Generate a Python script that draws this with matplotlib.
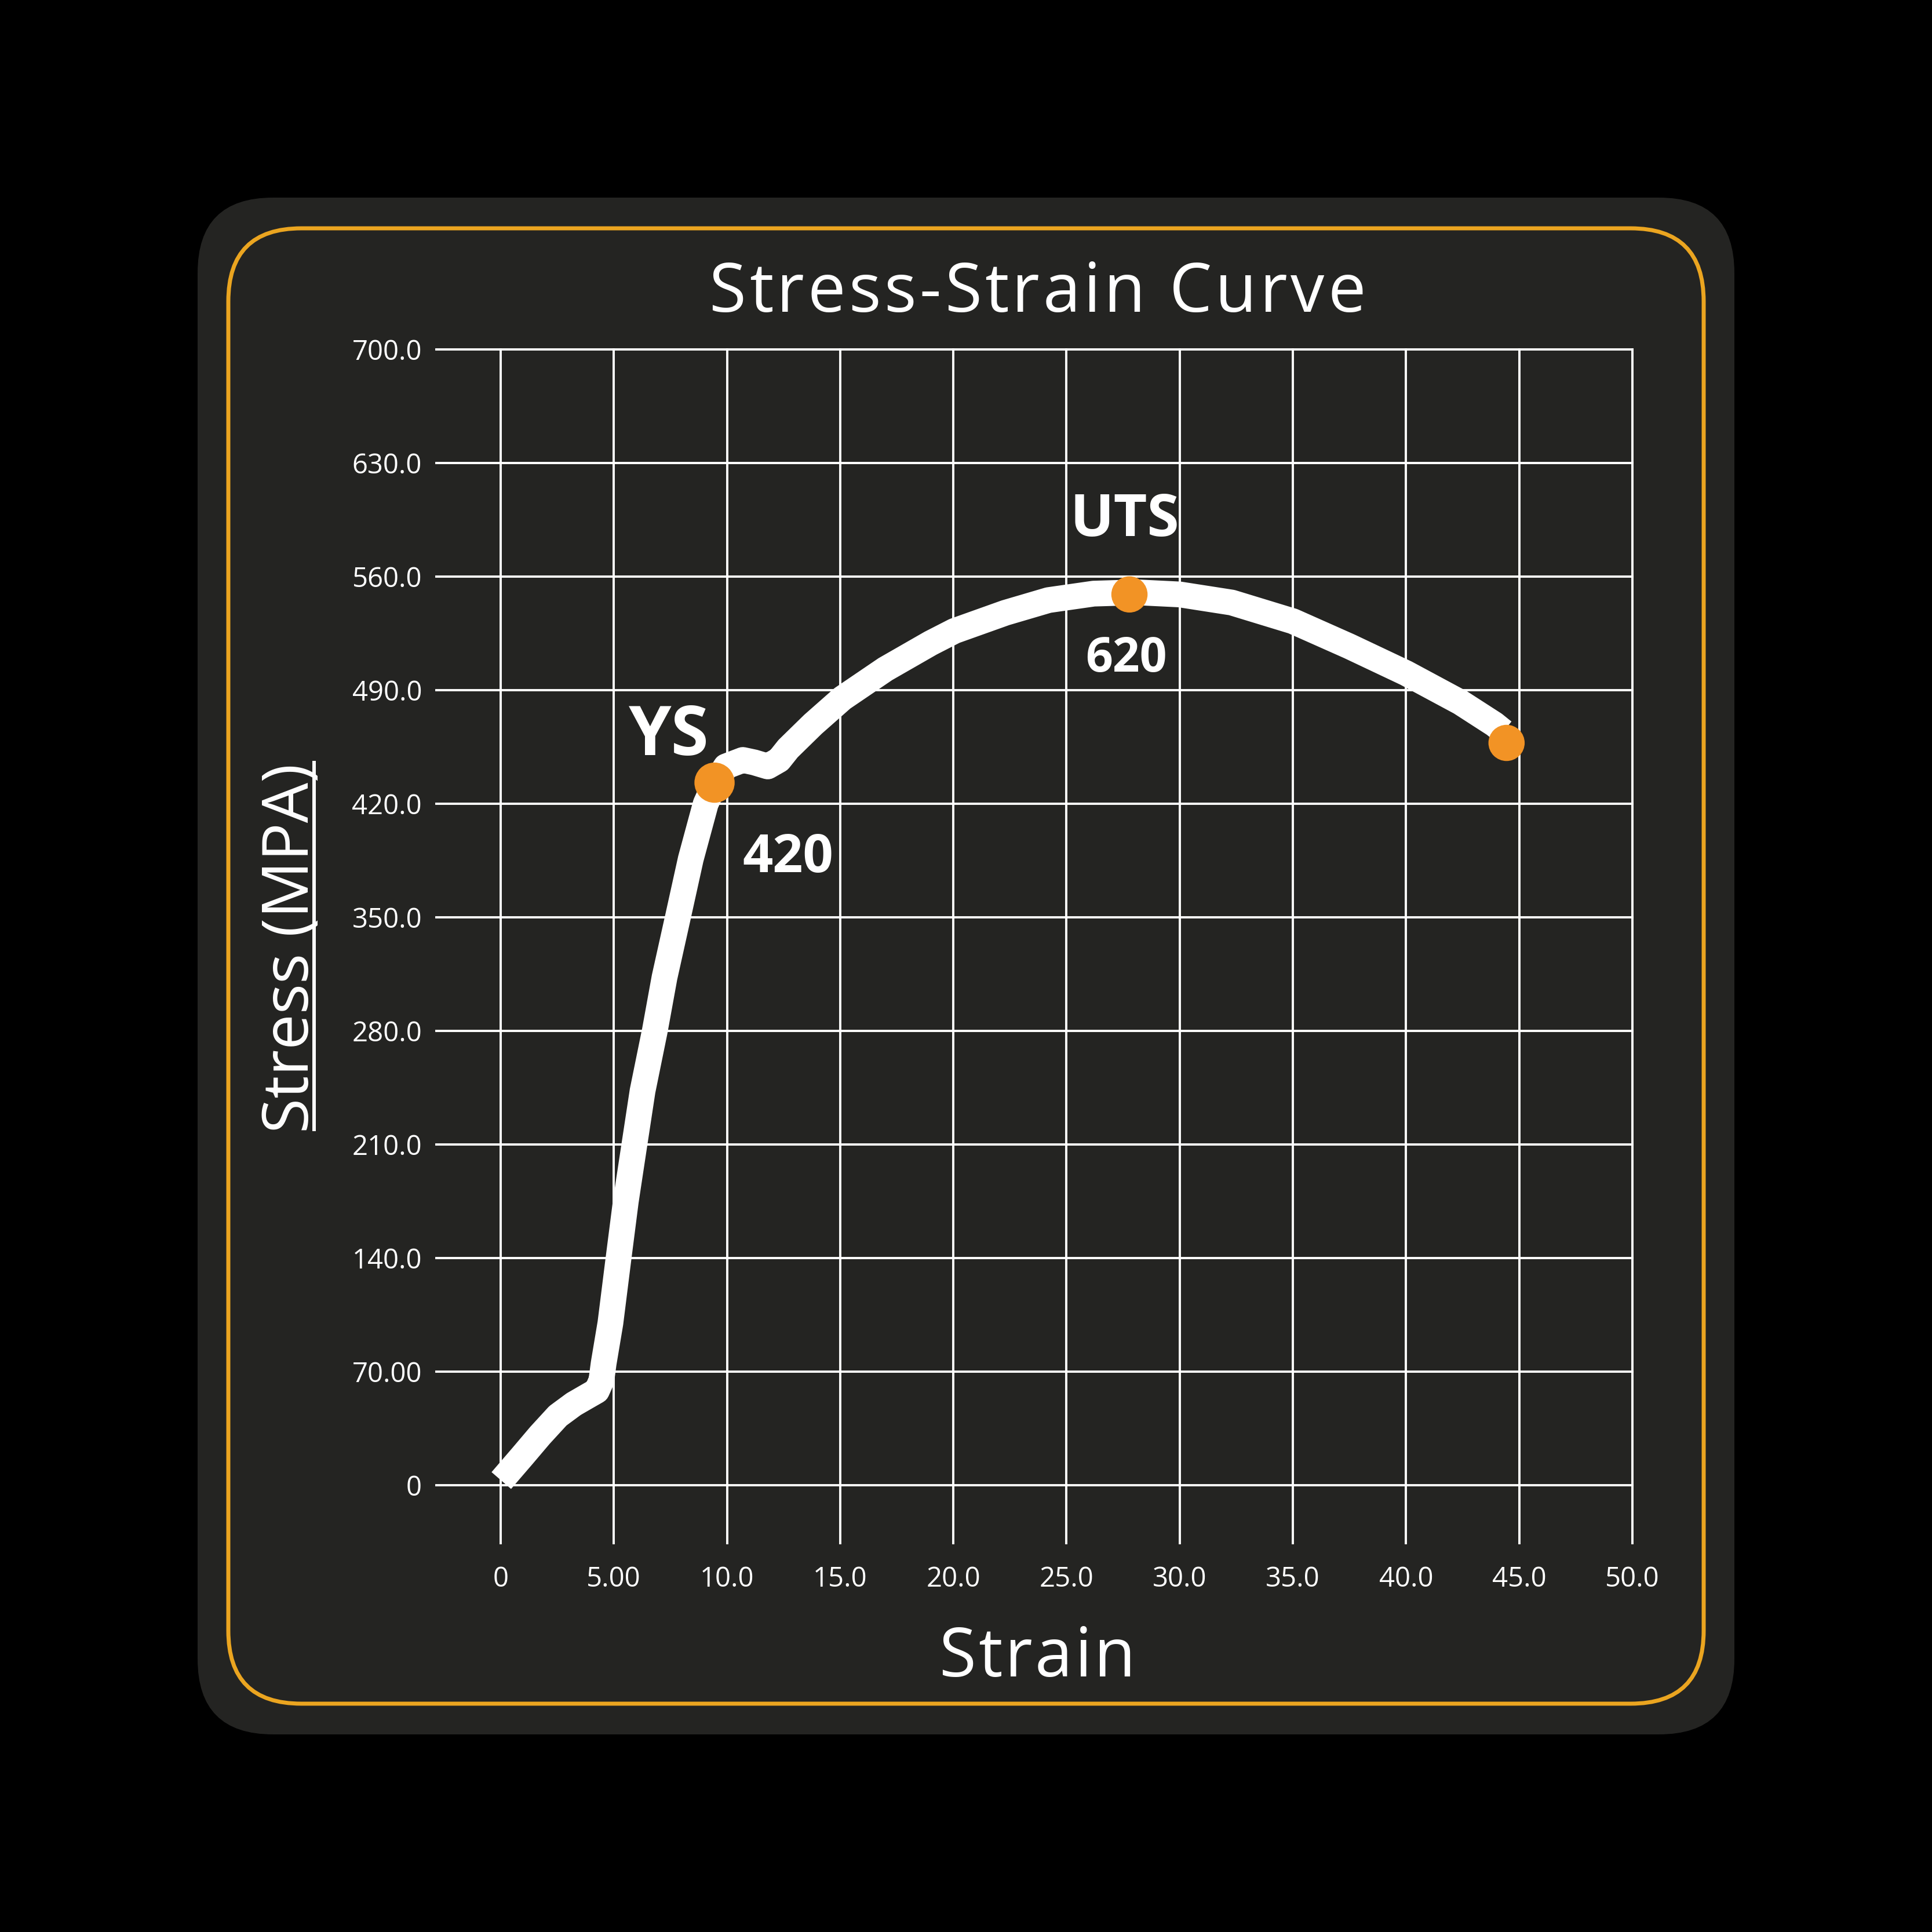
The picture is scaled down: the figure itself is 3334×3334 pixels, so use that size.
import numpy as np
import matplotlib.pyplot as plt
from matplotlib.patches import FancyBboxPatch
from matplotlib.lines import Line2D

# curve (strain %, stress MPa)
strain = [0.03, 0.95, 1.74, 2.53, 3.23, 3.8, 4.25, 4.45, 4.55, 4.85, 5.2, 5.53, 5.91,
          6.27, 6.81, 7.24, 7.83, 8.4, 9.06, 9.45, 9.95, 10.7, 11.2, 11.8, 12.3, 12.7,
          13.8, 15.1, 17.0, 19.0, 20.05, 22.3, 24.2, 26.2, 28.1, 30.0, 32.3, 35.0,
          37.5, 40.0, 42.4, 43.9, 44.3]
stress = [2.9, 17.8, 30.8, 42.8, 50, 54.6, 58.2, 64.5, 75, 100, 139, 175, 210,
          243, 280, 313, 350, 386, 420, 432, 443, 447, 445.5, 443, 447, 454,
          469, 485, 503, 519, 526.5, 537.7, 545.5, 549.5, 550.3, 549, 544, 532.5,
          517, 500.5, 482.5, 469, 464.5]

point_strain = [9.45, 27.78, 44.44]
point_stress = [433, 549, 457.5]
point_size = [50, 45, 45]

note_text = ['YS', '420', 'UTS', '620']
note_strain = [7.43, 12.7, 27.56, 27.63]
note_stress = [450, 378, 585, 501.4]
note_size = [85, 66, 72, 59]

x_ticks = [0, 5, 10, 15, 20, 25, 30, 35, 40, 45, 50]
x_tick_labels = ['0', '5.00', '10.0', '15.0', '20.0', '25.0', '30.0', '35.0', '40.0', '45.0', '50.0']
y_ticks = [0, 70, 140, 210, 280, 350, 420, 490, 560, 630, 700]
y_tick_labels = ['0', '70.00', '140.0', '210.0', '280.0', '350.0', '420.0', '490.0', '560.0', '630.0', '700.0']

FONT = ['Open Sans', 'DejaVu Sans']
W = 3334.0
PANEL = '#242422'
ORANGE = '#EBA520'
DOT = '#F29325'

fig = plt.figure(figsize=(W / 100, W / 100), dpi=100, facecolor='black')

# rounded panel + orange frame
fig.add_artist(FancyBboxPatch((341 / W, 341 / W), 2652 / W, 2652 / W,
                              boxstyle='round,pad=0,rounding_size=%f' % (130 / W),
                              transform=fig.transFigure, facecolor=PANEL,
                              edgecolor='none', zorder=-2))
fig.add_artist(FancyBboxPatch((394 / W, 394 / W), 2546 / W, 2546 / W,
                              boxstyle='round,pad=0,rounding_size=%f' % (126 / W),
                              transform=fig.transFigure, facecolor='none',
                              edgecolor=ORANGE, linewidth=5, zorder=-1))

ax = fig.add_axes([753 / W, 1 - 2663 / W, (2817 - 753) / W, (2663 - 603) / W])
ax.set_facecolor('none')
ax.set_xlim(-2.84, 50)
ax.set_ylim(-35.7, 700)
for s in ax.spines.values():
    s.set_visible(False)

ax.set_xticks(x_ticks)
ax.set_xticklabels(x_tick_labels)
ax.set_yticks(y_ticks)
ax.set_yticklabels(y_tick_labels)
ax.tick_params(axis='both', length=0, labelcolor='white', labelsize=34)
ax.tick_params(axis='x', pad=28)
ax.tick_params(axis='y', pad=18)
for lab in ax.get_xticklabels() + ax.get_yticklabels():
    lab.set_family(FONT)

ax.set_axisbelow(True)
ax.grid(True, color='white', linewidth=2.8)
for gl in ax.get_xgridlines() + ax.get_ygridlines():
    gl.set_clip_on(False)

ax.plot(strain, stress, color='white', linewidth=32, solid_capstyle='butt',
        solid_joinstyle='round', zorder=3)
ax.scatter(point_strain, point_stress, s=np.array(point_size) ** 2, color=DOT,
           linewidths=0, zorder=4, clip_on=False)

for t, xs, ys, sz in zip(note_text, note_strain, note_stress, note_size):
    ax.text(xs, ys, t, color='white', fontsize=sz, fontweight='bold', family=FONT,
            ha='center', va='baseline', zorder=5)

renderer = fig.canvas.get_renderer()


def text_width(s, size):
    tt = fig.text(0, 0, s, fontsize=size, family=FONT)
    w = tt.get_window_extent(renderer).width
    tt.remove()
    return w


def tracked(s, xc, yb, size, width_px):
    bar = text_width('|', size)
    offs = [0.0] + [text_width(s[:i] + '|', size) - bar for i in range(1, len(s))]
    natural = text_width(s, size)
    track = (width_px - natural) / (len(s) - 1)
    x0 = xc - width_px / 2
    for i, ch in enumerate(s):
        if ch == ' ':
            continue
        fig.text((x0 + offs[i] + i * track) / W, 1 - yb / W, ch, color='white',
                 fontsize=size, family=FONT, ha='left', va='baseline')


tracked('Stress-Strain Curve', 1790, 538, 84, 1133)
tracked('Strain', 1790, 2893, 84, 339)

# y label, underlined
fig.text(532 / W, 1 - 1636 / W, 'Stress (MPA)', color='white', fontsize=79,
         family=FONT, rotation=90, rotation_mode='anchor', ha='center', va='baseline')
fig.add_artist(Line2D([542 / W, 542 / W], [1 - 1949 / W, 1 - 1316 / W],
                      transform=fig.transFigure, color='white', linewidth=4.3))

fig.savefig('out.png', dpi=100, facecolor='black')
